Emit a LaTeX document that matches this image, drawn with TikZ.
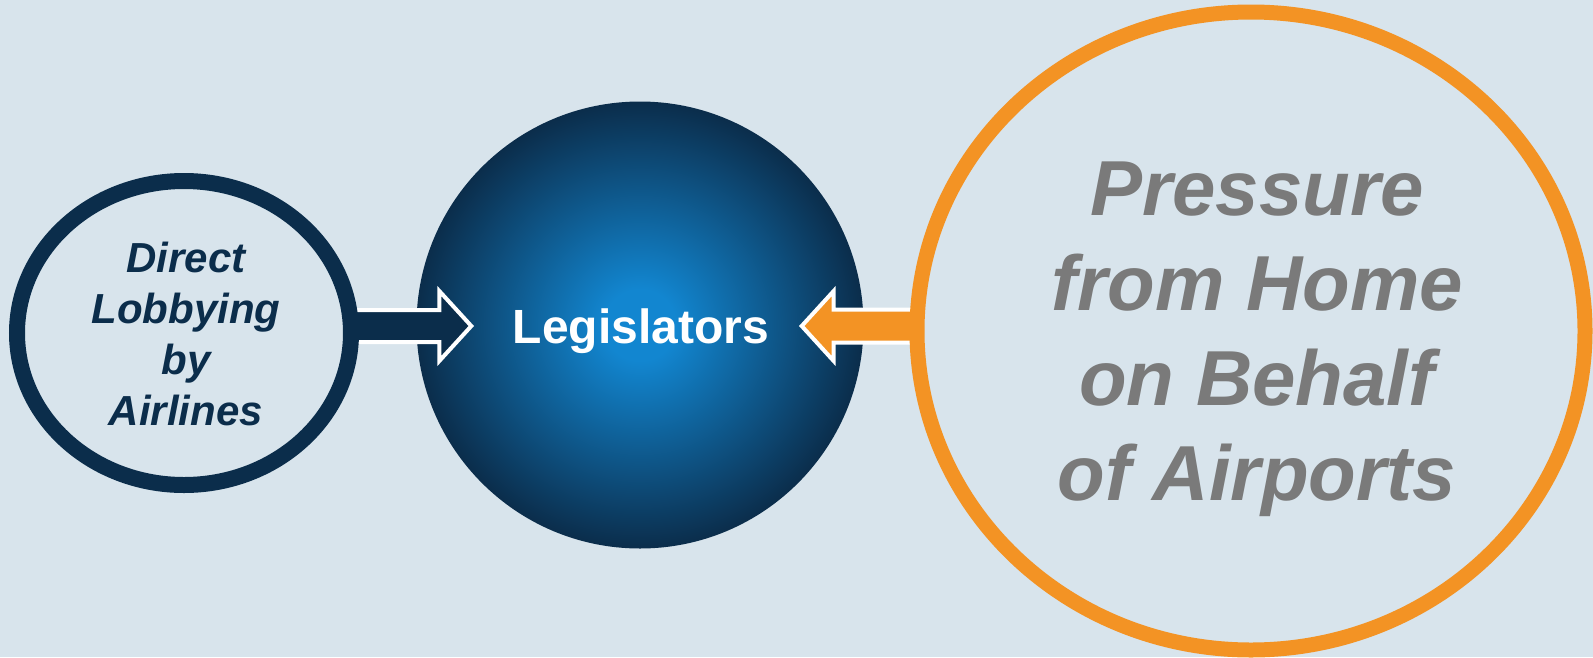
\documentclass[tikz,border=0pt]{standalone}
\usepackage{fontspec}
\setmainfont{Liberation Sans}
\usetikzlibrary{shapes.geometric,calc}

\definecolor{bgblue}{HTML}{D8E4EC}
\definecolor{navy}{HTML}{0B2D4B}
\definecolor{midblue}{HTML}{1286D0}
\definecolor{amber}{HTML}{F39324}
\definecolor{slate}{HTML}{7A7A7A}

% bright centre fading to navy at the rim (25bp = circle border)
\pgfdeclareradialshading{hub}{\pgfpoint{0bp}{0bp}}{%
  color(0bp)=(midblue); color(4bp)=(midblue); color(25bp)=(navy); color(50bp)=(navy)}

\tikzset{
  ring/.style={ellipse, inner sep=0pt, fill=bgblue},
  fatarrow/.style={draw=white, line width=4pt, line join=miter},
  labeltext/.style={align=center, font=#1\bfseries\itshape},
}

\begin{document}
\begin{tikzpicture}[x=1pt, y=-1pt]
  \useasboundingbox (0,0) rectangle (1593,657);
  \fill[bgblue] (0,0) rectangle (1593,657);

  % central circle
  \node[circle, inner sep=0pt, minimum size=447pt, shading=hub] (hub) at (640,325) {};

  % placeholder nodes so the arrows can refer to the rings
  \path (184,333) coordinate (lobbyc) (1251,331) coordinate (pressc);

  % left arrow (airlines -> legislators)
  \path ($(hub.west)+(55,1)$) coordinate (ltip);
  \draw[fatarrow, fill=navy]
    ($(lobbyc |- ltip)+(150,-16)$) -- ($(ltip)+(-32,-16)$) -- ($(ltip)+(-32,-35)$)
    -- (ltip) -- ($(ltip)+(-32,35)$) -- ($(ltip)+(-32,16)$)
    -- ($(lobbyc |- ltip)+(150,16)$) -- cycle;

  % right arrow (airports -> legislators)
  \path ($(hub.east)+(-62,1)$) coordinate (rtip);
  \draw[fatarrow, fill=amber]
    ($(pressc |- rtip)+(-320,-16.5)$) -- ($(rtip)+(32,-16.5)$) -- ($(rtip)+(32,-35)$)
    -- (rtip) -- ($(rtip)+(32,35)$) -- ($(rtip)+(32,16.5)$)
    -- ($(pressc |- rtip)+(-320,16.5)$) -- cycle;

  % rings drawn over the arrow tails
  \node[ring, draw=navy, line width=16pt, minimum width=334pt, minimum height=304pt] (lobby) at (lobbyc) {};
  \node[ring, draw=amber, line width=15pt, minimum width=668pt, minimum height=638pt] (press) at (pressc) {};

  % texts
  \node[labeltext=\fontsize{42}{51}\selectfont, text=navy] (lobbytxt) at (186,334)
    {Direct\\Lobbying\\by\\Airlines};
  \node[font=\fontsize{48}{58}\selectfont\bfseries, text=white] (legtxt) at (641,331) {Legislators};
  \node[labeltext=\fontsize{78}{95}\selectfont, text=slate] (presstxt) at (1257,339.5)
    {Pressure\\from Home\\on Behalf\\of Airports};
\end{tikzpicture}
\end{document}
